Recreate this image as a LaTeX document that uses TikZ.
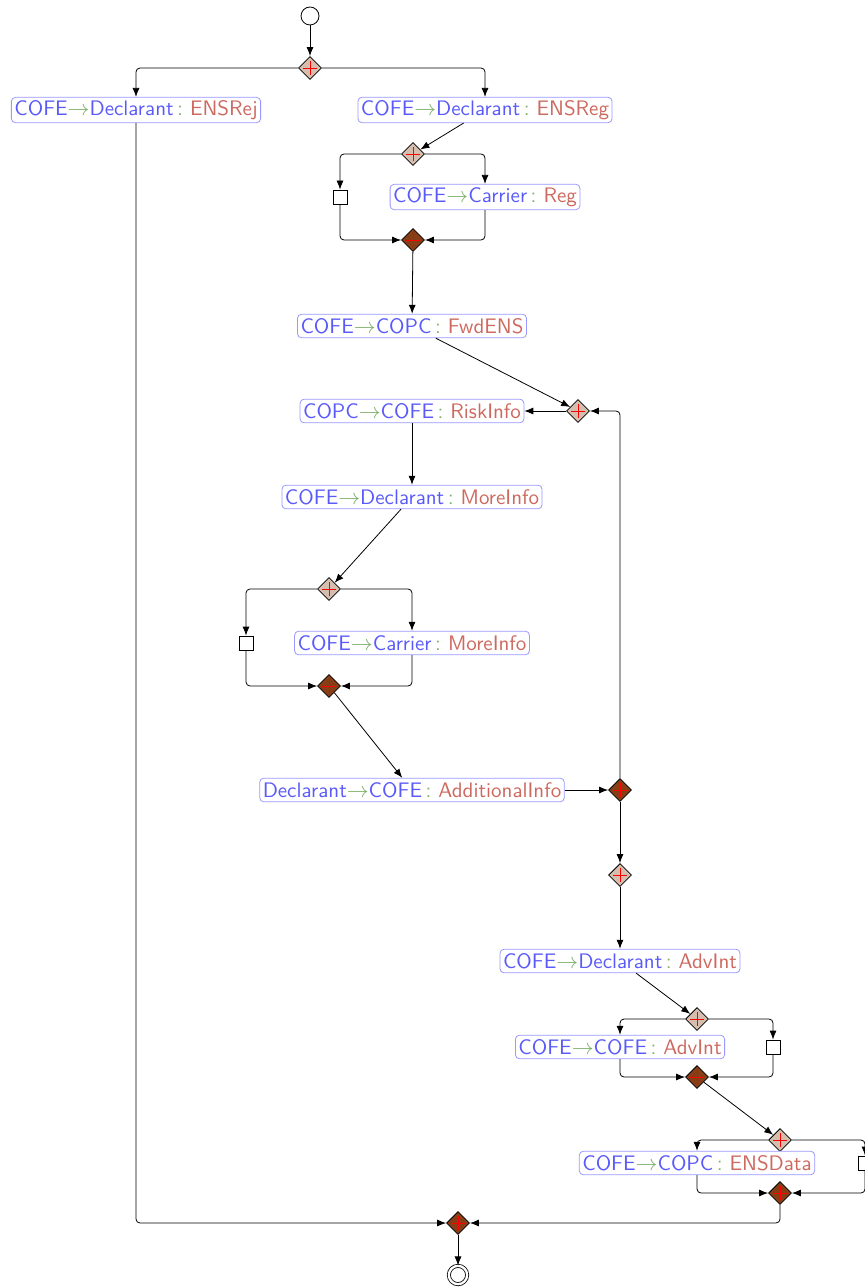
\documentclass[tikz,border=0pt]{standalone}
\usepackage{tikz}
\usepackage{color}
\usepackage{amsmath}
\usetikzlibrary{shapes.geometric,arrows.meta}
\definecolor{actorblue}{RGB}{90,90,250}
\definecolor{msgred}{RGB}{205,105,95}
\definecolor{arrowgreen}{RGB}{125,175,105}
\definecolor{gwlight}{RGB}{214,190,175}
\definecolor{gwdark}{RGB}{135,62,22}
\newcommand{\msg}[3]{{\color{actorblue}#1}{\color{arrowgreen}$\rightarrow$}{\color{actorblue}#2}{\color{arrowgreen}\,:\ }{\color{msgred}#3}}

\begin{document}
\begin{tikzpicture}[x=0.5pt, y=-0.5pt,
	task/.style={draw=blue!40, rounded corners=2pt, fill=white, inner sep=1.5pt, minimum height=11.8pt, font=\sffamily\fontsize{10.5}{12}\selectfont},
	gwsplit/.style={draw, diamond, fill=gwlight, minimum size=11.5pt, inner sep=0pt,
		path picture={\draw[red] (path picture bounding box.center) ++(-3.3pt,0) -- ++(6.6pt,0) ++(-3.3pt,-3.3pt) -- ++(0,6.6pt);}},
	gwmerge/.style={gwsplit, fill=gwdark},
	wait/.style={draw, rectangle, fill=white, minimum size=7pt, inner sep=0pt},
	flow/.style={-{Latex[length=4.5pt,width=3.5pt]}, rounded corners=2pt}]
				\useasboundingbox (0,0) rectangle (865,1288);
				\node[draw, circle, minimum size=9pt, inner sep=0pt] (S)at(310, 16) {};
				\node[gwsplit] (G1)at(310, 68) {};
				\node[task] (Rej)at(136, 110) {\msg{COFE}{Declarant}{ENSRej}};
				\node[task] (Reg)at(485, 110) {\msg{COFE}{Declarant}{ENSReg}};
				\node[gwsplit] (G2)at(413, 154) {};
				\node[wait] (W1)at(340, 197) {};
				\node[task] (CReg)at(485, 197) {\msg{COFE}{Carrier}{Reg}};
				\node[gwmerge] (J1)at(413, 240) {};
				\node[task] (Fwd)at(412, 326) {\msg{COFE}{COPC}{FwdENS}};
				\node[gwsplit] (G3)at(578, 411) {};
				\node[task] (Risk)at(412, 411) {\msg{COPC}{COFE}{RiskInfo}};
				\node[task] (DMore)at(412, 497) {\msg{COFE}{Declarant}{MoreInfo}};
				\node[gwsplit] (G4)at(329, 589) {};
				\node[wait] (W2)at(246, 643) {};
				\node[task] (CMore)at(412, 643) {\msg{COFE}{Carrier}{MoreInfo}};
				\node[gwmerge] (J2)at(329, 686) {};
				\node[task] (Add)at(412, 790) {\msg{Declarant}{COFE}{AdditionalInfo}};
				\node[gwmerge] (J3)at(620, 790) {};
				\node[gwsplit] (G5)at(620, 875) {};
				\node[task] (DAdv)at(620, 961) {\msg{COFE}{Declarant}{AdvInt}};
				\node[gwsplit] (G6)at(697, 1019) {};
				\node[task] (CAdv)at(620, 1047) {\msg{COFE}{COFE}{AdvInt}};
				\node[wait] (W3)at(773, 1047) {};
				\node[gwmerge] (J4)at(697, 1077) {};
				\node[gwsplit] (G7)at(780, 1140) {};
				\node[task] (Data)at(697, 1163) {\msg{COFE}{COPC}{ENSData}};
				\node[wait] (W4)at(865, 1163) {};
				\node[gwmerge] (J5)at(780, 1193) {};
				\node[gwmerge] (J6)at(458, 1223) {};
				\node[draw, circle, double, double distance=1.15pt, minimum size=9.15pt, inner sep=0pt] (E)at(458, 1275) {};

				\draw[flow] (S) -- (G1);
				\draw[flow] (G1.west) -| (Rej.north);
				\draw[flow] (G1.east) -| (Reg.north);
				\draw[flow] (Reg) -- (G2);
				\draw[flow] (G2.west) -| (W1.north);
				\draw[flow] (G2.east) -| (CReg.north);
				\draw[flow] (W1.south) |- (J1.west);
				\draw[flow] (CReg.south) |- (J1.east);
				\draw[flow] (J1) -- (Fwd);
				\draw[flow] (Fwd) -- (G3);
				\draw[flow] (G3) -- (Risk);
				\draw[flow] (Risk) -- (DMore);
				\draw[flow] (DMore) -- (G4);
				\draw[flow] (G4.west) -| (W2.north);
				\draw[flow] (G4.east) -| (CMore.north);
				\draw[flow] (W2.south) |- (J2.west);
				\draw[flow] (CMore.south) |- (J2.east);
				\draw[flow] (J2) -- (Add);
				\draw[flow] (Add) -- (J3);
				\draw[flow] (J3.north) |- (G3.east);
				\draw[flow] (J3) -- (G5);
				\draw[flow] (G5) -- (DAdv);
				\draw[flow] (DAdv) -- (G6);
				\draw[flow] (G6.west) -| (CAdv.north);
				\draw[flow] (G6.east) -| (W3.north);
				\draw[flow] (CAdv.south) |- (J4.west);
				\draw[flow] (W3.south) |- (J4.east);
				\draw[flow] (J4) -- (G7);
				\draw[flow] (G7.west) -| (Data.north);
				\draw[flow] (G7.east) -| (W4.north);
				\draw[flow] (Data.south) |- (J5.west);
				\draw[flow] (W4.south) |- (J5.east);
				\draw[flow] (J5.south) |- (J6.east);
				\draw[flow] (Rej.south) |- (J6.west);
				\draw[flow] (J6) -- (E);
			\end{tikzpicture}
\end{document}
